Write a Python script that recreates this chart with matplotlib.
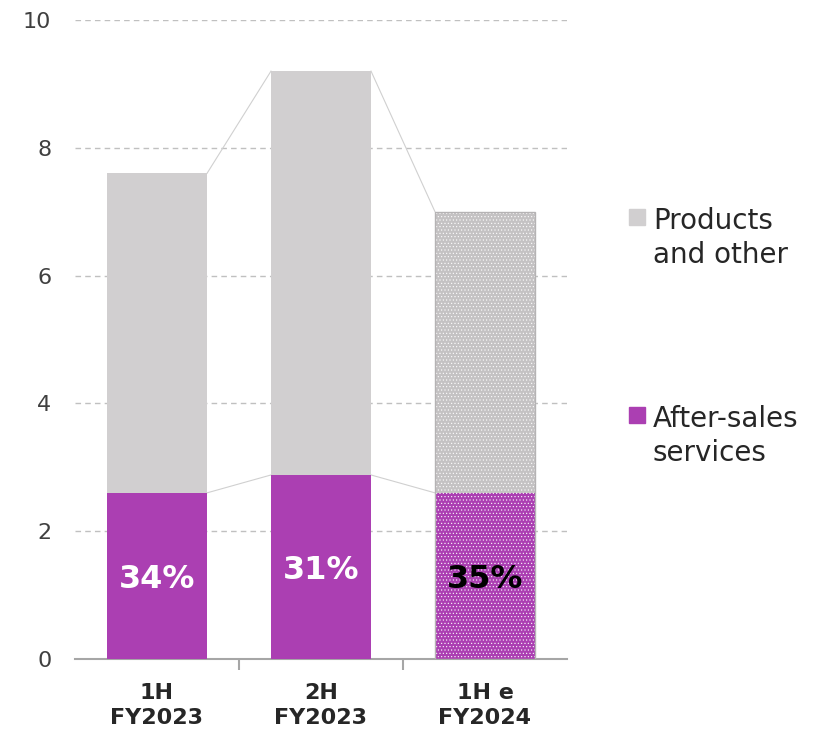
import numpy as np
import matplotlib.pyplot as plt
from matplotlib.patches import Rectangle

# data
categories = ['1H\nFY2023', '2H\nFY2023', '1H e\nFY2024']
after_sales = [2.6, 2.88, 2.6]
products = [5.0, 6.32, 4.4]
shares = ['34%', '31%', '35%']
estimate = [False, False, True]

purple = '#ab3fb2'
grey = '#d1cfd0'

plt.rcParams['font.family'] = ['DejaVu Sans']
plt.rcParams['hatch.linewidth'] = 0.4

fig = plt.figure(figsize=(8.18, 7.34), dpi=100)
ax = fig.add_axes([75 / 818, 75 / 734, 492 / 818, 639 / 734])

x = np.arange(len(categories))
w = 0.61
totals = np.array(after_sales) + np.array(products)

for i in x:
    if estimate[i]:
        ax.bar(i, after_sales[i], w, color=purple, edgecolor='white', hatch='.....', linewidth=0, zorder=3)
        ax.bar(i, products[i], w, bottom=after_sales[i], color='#c4c2c3', edgecolor='white',
               hatch='.....', linewidth=0, zorder=3)
        ax.bar(i, totals[i], w, fill=False, edgecolor='#b5b3b4', linewidth=1.0, zorder=4)
    else:
        ax.bar(i, after_sales[i], w, color=purple, linewidth=0, zorder=3)
        ax.bar(i, products[i], w, bottom=after_sales[i], color=grey, linewidth=0, zorder=3)

# connector lines between bars
for i in range(len(x) - 1):
    for vals in (totals, after_sales):
        ax.plot([i + w / 2, i + 1 - w / 2], [vals[i], vals[i + 1]], color='#d0d0d0', lw=0.8, zorder=2)

# share labels
for i in x:
    ax.text(i, after_sales[i] / 2, shares[i], ha='center', va='center_baseline', fontsize=23,
            fontweight='bold', color='black' if estimate[i] else 'white', zorder=5)

ax.set_xlim(-0.5, 2.5)
ax.set_ylim(0, 10)
ax.set_yticks(range(0, 11, 2))
ax.yaxis.grid(True, color='#c0c0c0', linestyle=(0, (4, 3)), lw=1)
ax.set_axisbelow(True)
for s in ['left', 'right', 'top']:
    ax.spines[s].set_visible(False)
ax.spines['bottom'].set_color('#a6a6a6')
ax.spines['bottom'].set_linewidth(1.5)
ax.tick_params(axis='y', length=0, labelsize=16, labelcolor='#404040', pad=17)

ax.set_xticks([0.5, 1.5])
ax.set_xticklabels([])
ax.tick_params(axis='x', length=8, color='#a6a6a6', width=1.5)
for i, c in enumerate(categories):
    ax.text(i, -0.37, c, ha='center', va='top', fontsize=16, fontweight='bold', color='#262626',
            linespacing=1.35)

# legend on the right
fig.patches.append(Rectangle((629 / 818, 1 - 225 / 734), 16 / 818, 16 / 734, transform=fig.transFigure,
                             color=grey, figure=fig))
fig.text(653 / 818, 1 - 238 / 734, 'Products\nand other', fontsize=20, va='center', ha='left',
         color='#262626', linespacing=1.25)
fig.patches.append(Rectangle((629 / 818, 1 - 423 / 734), 16 / 818, 16 / 734, transform=fig.transFigure,
                             color=purple, figure=fig))
fig.text(653 / 818, 1 - 436 / 734, 'After-sales\nservices', fontsize=20, va='center', ha='left',
         color='#262626', linespacing=1.25)

fig.savefig('out.png', dpi=100)
